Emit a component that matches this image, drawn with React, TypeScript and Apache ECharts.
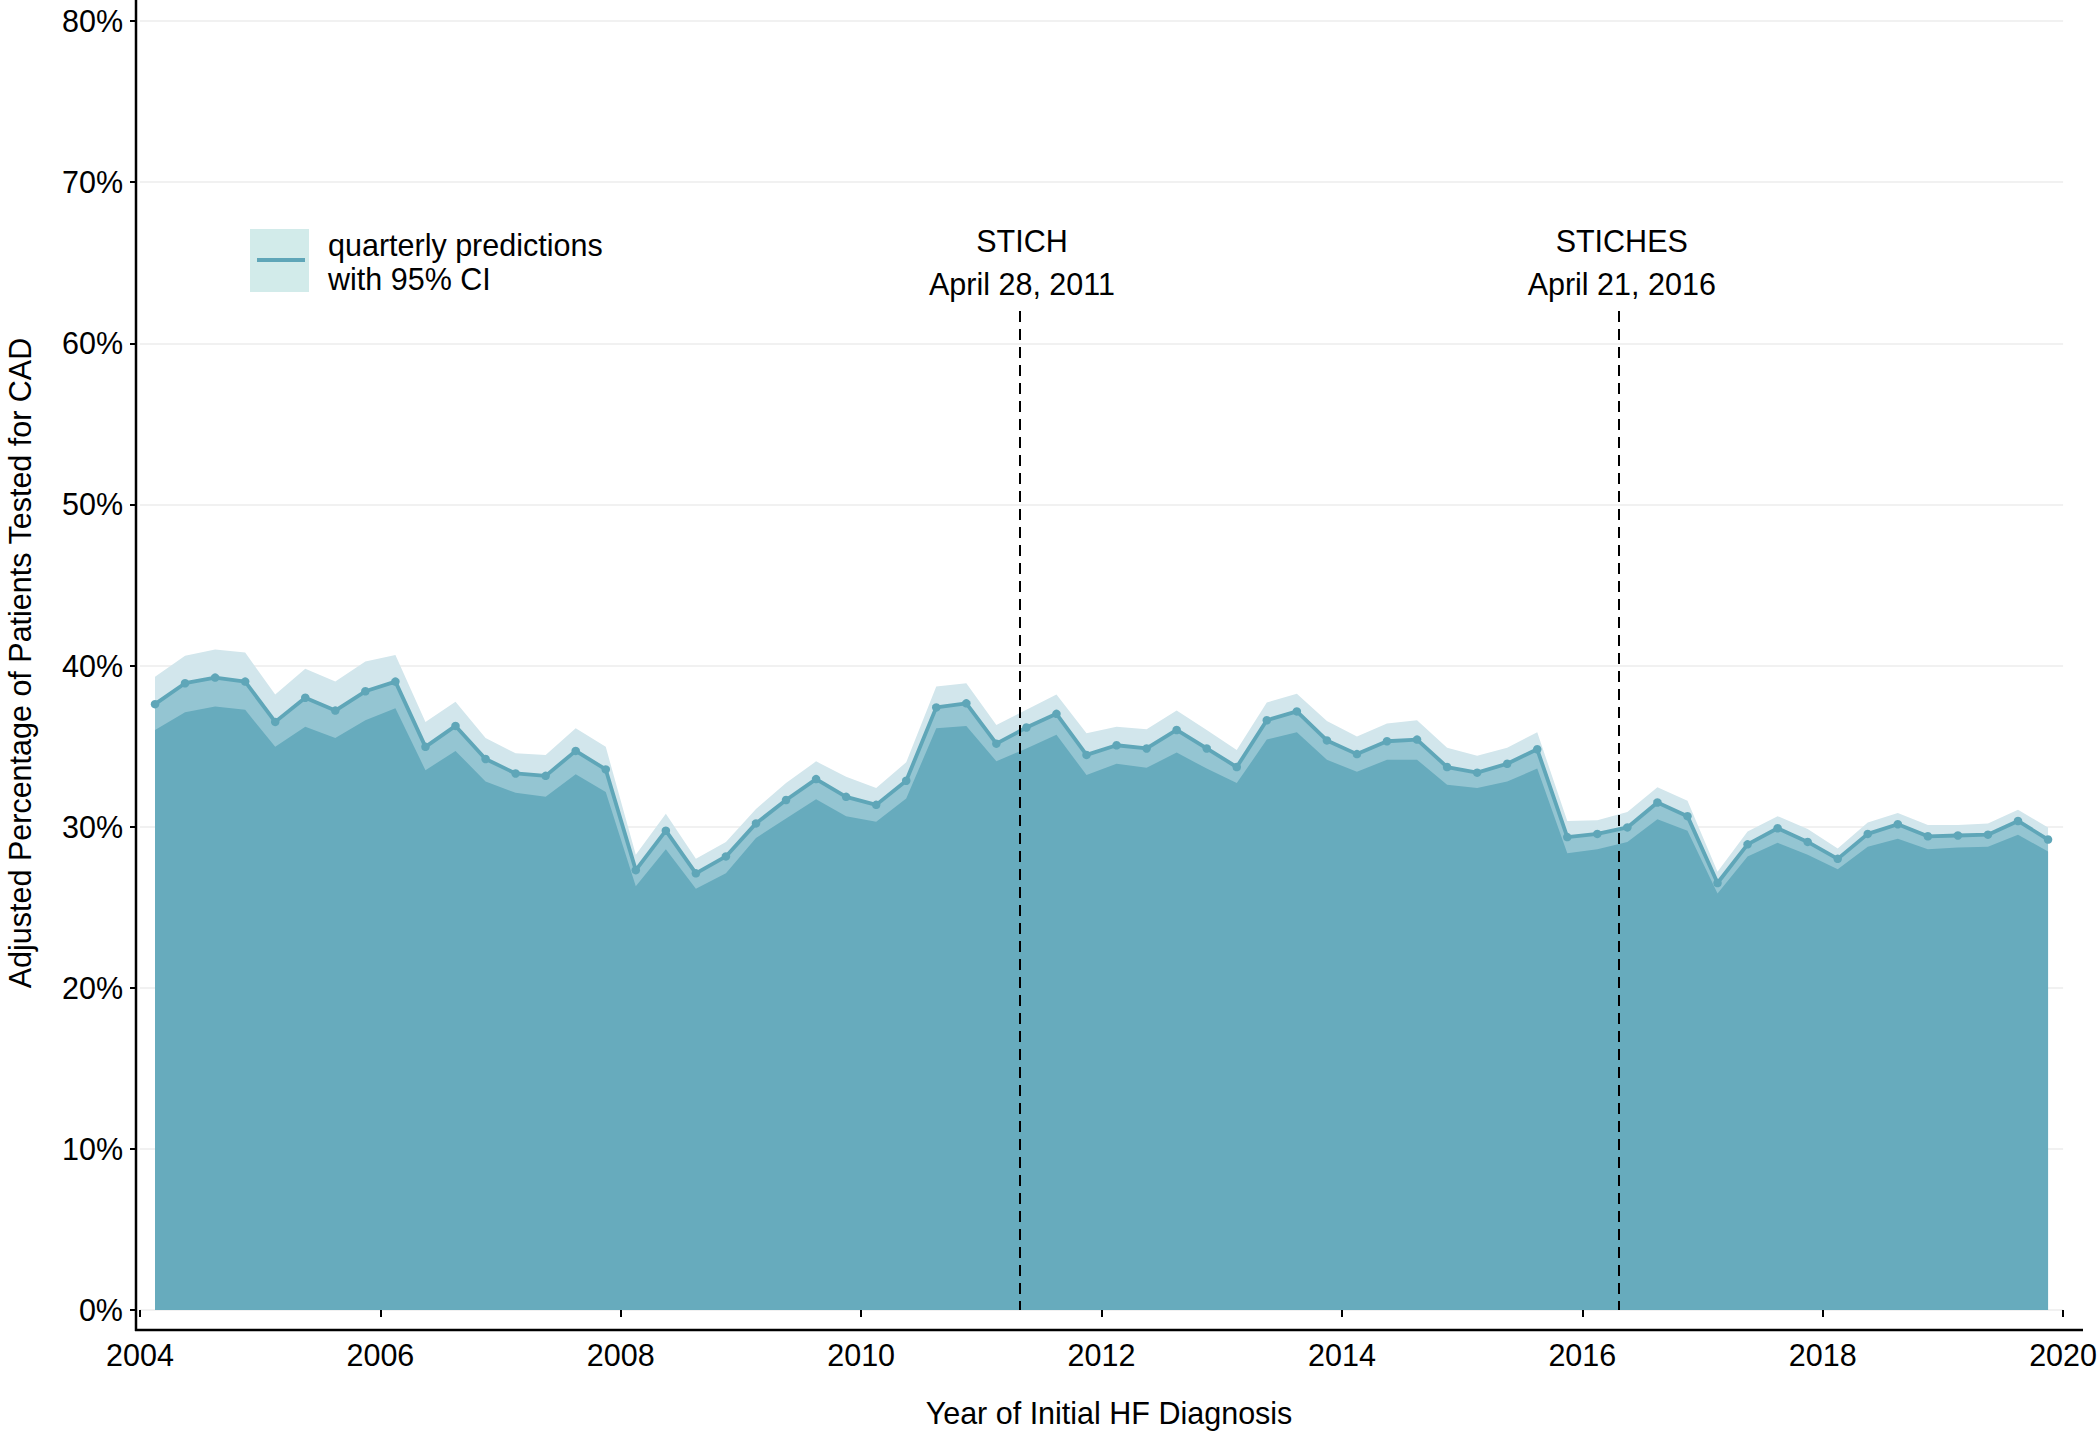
import React, { useEffect, useRef } from "react";
import * as echarts from "echarts";

const YEARS = [2004, 2005, 2006, 2007, 2008, 2009, 2010, 2011, 2012, 2013, 2014, 2015, 2016, 2017, 2018, 2019];
const QUARTER_MIDS = [0.125, 0.375, 0.625, 0.875];
const quarters = YEARS.flatMap((y) => QUARTER_MIDS.map((q) => y + q));

const predicted = [
  37.6, 38.9, 39.25, 39.0, 36.5, 38.0, 37.2, 38.4, 39.0, 34.95, 36.25, 34.2, 33.3, 33.15, 34.7, 33.55,
  27.3, 29.75, 27.1, 28.15, 30.2, 31.65, 32.95, 31.85, 31.35, 32.85, 37.4, 37.65, 35.15, 36.15, 37.0, 34.45,
  35.05, 34.85, 36.0, 34.85, 33.7, 36.6, 37.15, 35.35, 34.5, 35.3, 35.4, 33.7, 33.35, 33.9, 34.8, 29.35,
  29.55, 29.95, 31.5, 30.65, 26.5, 28.9, 29.9, 29.05, 28.0, 29.55, 30.15, 29.4, 29.45, 29.5, 30.35, 29.2,
];
const ciUpper = [
  39.3, 40.6, 41.0, 40.8, 38.2, 39.8, 39.0, 40.25, 40.65, 36.5, 37.75, 35.5, 34.55, 34.45, 36.1, 34.95,
  28.25, 30.8, 28.0, 29.05, 31.1, 32.7, 34.05, 33.1, 32.4, 34.0, 38.7, 38.9, 36.3, 37.25, 38.2, 35.8,
  36.2, 36.05, 37.2, 36.0, 34.75, 37.7, 38.25, 36.55, 35.6, 36.4, 36.6, 34.9, 34.4, 34.9, 35.85, 30.35,
  30.4, 30.9, 32.45, 31.6, 27.2, 29.7, 30.65, 29.85, 28.65, 30.25, 30.85, 30.1, 30.1, 30.2, 31.05, 29.95,
];
const ciLower = [
  36.0, 37.1, 37.45, 37.25, 34.95, 36.2, 35.5, 36.6, 37.35, 33.5, 34.7, 32.8, 32.1, 31.85, 33.25, 32.15,
  26.3, 28.6, 26.15, 27.1, 29.3, 30.5, 31.7, 30.65, 30.3, 31.75, 36.1, 36.25, 34.05, 34.85, 35.7, 33.2,
  33.9, 33.65, 34.6, 33.6, 32.7, 35.4, 35.85, 34.15, 33.4, 34.15, 34.15, 32.6, 32.4, 32.8, 33.6, 28.35,
  28.6, 29.05, 30.45, 29.75, 25.85, 28.15, 29.0, 28.25, 27.35, 28.75, 29.25, 28.6, 28.7, 28.75, 29.5, 28.45,
];

const EVENTS = [
  { name: "STICH", date: "April 28, 2011", x: 2011.323 },
  { name: "STICHES", date: "April 21, 2016", x: 2016.303 },
];
const EVENT_LINE_TOP = 62;

const X_MIN = 2004;
const X_MAX = 2020;
const X_STEP = 2;
const Y_MIN = 0;
const Y_MAX = 80;
const Y_STEP = 10;

const FONT = "'Liberation Sans', Arial, Helvetica, sans-serif";
const FS = 30.5;
const DARK = "#67abbd";
const MID = "#94c5d2";
const LIGHT = "#d2e6ec";
const LINE = "#5fa6b8";

export default function App() {
  const ref = useRef<HTMLDivElement>(null);

  useEffect(() => {
    document.body.style.margin = "0";
    if (!ref.current) return;
    const chart = echarts.init(ref.current, undefined, { renderer: "svg" });

    const upperData = quarters.map((x, i) => [x, ciUpper[i]]);
    const meanData = quarters.map((x, i) => [x, predicted[i]]);
    const lowerData = quarters.map((x, i) => [x, ciLower[i]]);

    const gridLeft = 140;
    const gridRight = 33;
    const gridTop = 21;
    const gridBottom = 122;
    const W = 2100;
    const plotW = W - gridLeft - gridRight;
    const px = (x: number) => gridLeft + ((x - X_MIN) / (X_MAX - X_MIN)) * plotW;

    const areaCommon = {
      type: "line",
      symbol: "none",
      showSymbol: false,
      lineStyle: { width: 0 },
      silent: true,
      z: 2,
    };

    const textStyle = (text: string, align = "center") => ({
      text,
      fontSize: FS,
      fontFamily: FONT,
      fill: "#000",
      align,
      verticalAlign: "middle",
    });

    const option: any = {
      animation: false,
      backgroundColor: "#ffffff",
      grid: { left: gridLeft, right: gridRight, top: gridTop, bottom: gridBottom, containLabel: false },
      xAxis: {
        type: "value",
        min: X_MIN,
        max: X_MAX,
        interval: X_STEP,
        offset: 20,
        axisLine: { show: false },
        axisTick: { show: true, length: 7, lineStyle: { color: "#000", width: 2 } },
        axisLabel: {
          fontSize: FS,
          color: "#000",
          fontFamily: FONT,
          margin: 9,
          formatter: (v: number) => String(v),
        },
        splitLine: { show: false },
      },
      yAxis: {
        type: "value",
        min: Y_MIN,
        max: Y_MAX,
        interval: Y_STEP,
        offset: 4,
        axisLine: { show: false },
        axisTick: { show: true, length: 6, lineStyle: { color: "#000", width: 2 } },
        axisLabel: {
          fontSize: FS,
          color: "#000",
          fontFamily: FONT,
          margin: 13,
          formatter: "{value}%",
        },
        splitLine: { show: true, lineStyle: { color: "#ececec", width: 1.5 } },
      },
      series: [
        { ...areaCommon, name: "upper 95% CI", data: upperData, areaStyle: { color: LIGHT, opacity: 1 } },
        { ...areaCommon, name: "prediction area", data: meanData, areaStyle: { color: MID, opacity: 1 } },
        { ...areaCommon, name: "lower 95% CI", data: lowerData, areaStyle: { color: DARK, opacity: 1 } },
        {
          type: "line",
          name: "quarterly predictions",
          data: meanData,
          symbol: "circle",
          symbolSize: 8.5,
          showSymbol: true,
          lineStyle: { color: LINE, width: 3.8 },
          itemStyle: { color: LINE },
          z: 3,
          markLine: {
            silent: true,
            symbol: ["none", "none"],
            label: { show: false },
            lineStyle: { color: "#000", width: 2, type: [11, 7] },
            data: EVENTS.map((e) => [
              { coord: [e.x, EVENT_LINE_TOP] },
              { coord: [e.x, 0] },
            ]),
            z: 4,
          },
        },
      ],
      graphic: [
        { type: "line", shape: { x1: 136, y1: 0, x2: 136, y2: 1331 }, style: { stroke: "#000", lineWidth: 2.5 }, z: 10 },
        { type: "line", shape: { x1: 135, y1: 1330, x2: 2083, y2: 1330 }, style: { stroke: "#000", lineWidth: 2.5 }, z: 10 },
        { type: "text", x: 1109, y: 1413, style: textStyle("Year of Initial HF Diagnosis") },
        {
          type: "text",
          x: 20,
          y: 663,
          rotation: Math.PI / 2,
          style: textStyle("Adjusted Percentage of Patients Tested for CAD"),
        },
        { type: "rect", shape: { x: 250, y: 229, width: 59, height: 63 }, style: { fill: "#d2ebea" } },
        { type: "line", shape: { x1: 257, y1: 260, x2: 305, y2: 260 }, style: { stroke: LINE, lineWidth: 4 } },
        { type: "text", x: 328, y: 245, style: textStyle("quarterly predictions", "left") },
        { type: "text", x: 328, y: 279, style: textStyle("with 95% CI", "left") },
        ...EVENTS.flatMap((e) => [
          { type: "text", x: px(e.x), y: 241, style: textStyle(e.name) },
          { type: "text", x: px(e.x), y: 284, style: textStyle(e.date) },
        ]),
      ],
    };

    chart.setOption(option);
    return () => chart.dispose();
  }, []);

  return <div ref={ref} style={{ width: 2100, height: 1432 }} />;
}
